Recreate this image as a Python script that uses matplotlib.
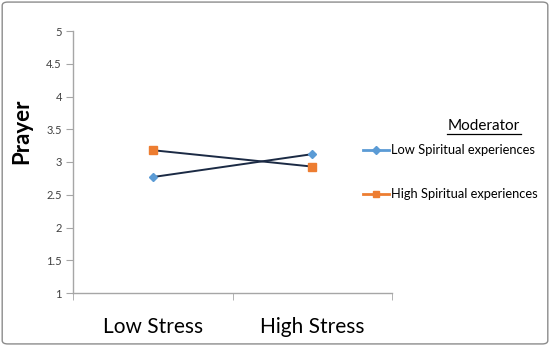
import matplotlib
matplotlib.use("Agg")
import matplotlib.pyplot as plt
from matplotlib.lines import Line2D
from matplotlib.patches import FancyBboxPatch

categories = ["Low Stress", "High Stress"]
low_spiritual = [2.77, 3.12]
high_spiritual = [3.18, 2.93]
series_names = ["Low Spiritual experiences", "High Spiritual experiences"]
yticks = [1, 1.5, 2, 2.5, 3, 3.5, 4, 4.5, 5]
ytick_labels = ["1", "1.5", "2", "2.5", "3", "3.5", "4", "4.5", "5"]

plt.rcParams['font.family'] = ['Lato', 'DejaVu Sans']

blue = "#5B9BD5"
orange = "#ED7D31"
line_dark = "#1B2A44"
gray = "#A6A6A6"

fig = plt.figure(figsize=(5.5, 3.46), dpi=100)
fig.patch.set_facecolor("white")
border = FancyBboxPatch((0.004, 0.006), 0.992, 0.988, boxstyle="round,pad=0,rounding_size=0.01",
                        transform=fig.transFigure, fill=False, edgecolor="#8C8C8C", linewidth=1.0)
fig.patches.append(border)

ax = fig.add_axes([73/550, 1-293/346, (392-73)/550, (293-31)/346])
x = list(range(len(categories)))
ax.plot(x, low_spiritual, color=line_dark, lw=1.4, marker="D", markersize=4.5,
        markerfacecolor=blue, markeredgecolor=blue, zorder=3)
ax.plot(x, high_spiritual, color=line_dark, lw=1.4, marker="s", markersize=6,
        markerfacecolor=orange, markeredgecolor=orange, zorder=3)

ax.set_xlim(-0.5, 1.5)
ax.set_ylim(1, 5)
ax.set_yticks(yticks)
ax.set_yticklabels(ytick_labels, fontsize=8, color="#404040")
ax.set_xticks(x)
ax.set_xticklabels(categories, fontsize=15, color="#000000")
ax.set_xticks([-0.5, 0.5, 1.5], minor=True)
ax.tick_params(axis="x", which="major", length=0, pad=17)
ax.tick_params(axis="x", which="minor", length=5, color=gray, direction="out")
ax.tick_params(axis="y", length=5, color=gray, direction="out", pad=3)
for s in ["top", "right"]:
    ax.spines[s].set_visible(False)
for s in ["left", "bottom"]:
    ax.spines[s].set_color(gray)
    ax.spines[s].set_linewidth(1.0)

fig.text(22/550, 1-131/346, "Prayer", rotation=90, ha="center", va="center",
         fontsize=16, fontweight="bold")

handles = [
    Line2D([0], [0], color=blue, lw=2, marker="D", markersize=4, markerfacecolor=blue, markeredgecolor=blue),
    Line2D([0], [0], color=orange, lw=2, marker="s", markersize=5, markerfacecolor=orange, markeredgecolor=orange),
]
leg = fig.legend(handles, series_names, loc="upper left", bbox_to_anchor=(357/550, 1-138/346),
                 frameon=False, fontsize=9.3, handlelength=2.0, handletextpad=0.15,
                 labelspacing=2.45, borderpad=0)

fig.text(484/550, 1-126/346, "Moderator", ha="center", va="center", fontsize=11)
fig.add_artist(Line2D([447/550, 521/550], [1-134/346, 1-134/346], color="black", lw=0.9,
                      transform=fig.transFigure))

fig.savefig("out.png", dpi=100)
